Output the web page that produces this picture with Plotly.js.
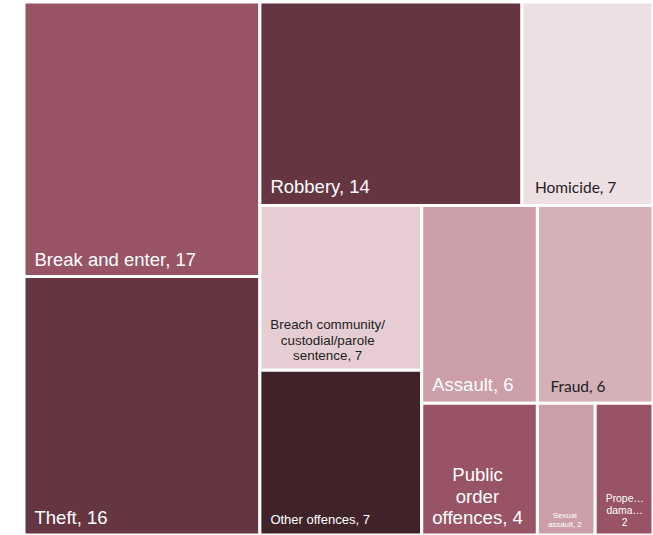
<!DOCTYPE html>
<html>
<head>
<meta charset="utf-8">
<script src="https://cdn.plot.ly/plotly-3.0.1.min.js"></script>
<style>html,body{margin:0;padding:0;background:#fff;}#chart{width:653px;height:535px;}</style>
</head>
<body>
<div id="chart"></div>
<script>
// ---- data ----
const categories = ["Break and enter", "Theft", "Robbery", "Homicide", "Breach community/custodial/parole sentence", "Other offences", "Assault", "Fraud", "Public order offences", "Sexual assault", "Property damage"];
const values = [17, 16, 14, 7, 7, 7, 6, 6, 4, 2, 2];
// label lines as printed inside each tile
const labelLines = [
  ["Break and enter, 17"],
  ["Theft, 16"],
  ["Robbery, 14"],
  ["Homicide, 7"],
  ["Breach community/", "custodial/parole", "sentence, 7"],
  ["Other offences, 7"],
  ["Assault, 6"],
  ["Fraud, 6"],
  ["Public", "order", "offences, 4"],
  ["Sexual", "assault, 2"],
  ["Prope\u2026", "dama\u2026", "2"]
];

// ---- styles ----
const tileColors = ["#985365", "#653642", "#653642", "#EEDFE3", "#E6CDD4", "#402329", "#CB9EA9", "#D4B0B8", "#985365", "#CB9EA9", "#985365"];
const textColors = ["#ffffff", "#ffffff", "#ffffff", "#222222", "#222222", "#ffffff", "#ffffff", "#222222", "#ffffff", "#ffffff", "#ffffff"];
const fontSizes = [18.5, 18.5, 18.5, 15.5, 13.4, 13, 18.5, 15.5, 18.6, 7.9, 10.4];
const fontFamilies = ["Liberation Sans", "Liberation Sans", "Liberation Sans", "Lato", "Liberation Sans", "Liberation Sans", "Liberation Sans", "Lato", "Liberation Sans", "Liberation Sans", "Liberation Sans"];
const lineSpacing = [22, 22, 22, 18, 15.5, 16, 22, 18, 21.5, 9.5, 12];
const bottomGap = [11, 11, 13, 13, 10, 11, 12.5, 11, 11, 8, 9.5];
const leftPad = [7.5, 7.5, 7.5, 10, 7.5, 7.5, 7.5, 10, 7.5, 7.5, 7.5];

const NBSP = "\u00A0";
const NB_EM = 0.2778;      // width of a no-break space in Liberation Sans (em)
const DESC_EM = 0.212;     // descent of Liberation Sans (em)
const TEXTPAD = 3;         // plotly inner text pad

const ctx = document.createElement("canvas").getContext("2d");
function measure(str, fs, fam) {
  ctx.font = fs + 'px "' + fam + '"';
  return ctx.measureText(str).width;
}
function padSpan(px, fs) {
  const nbW = NB_EM * fs;
  const n = Math.floor(px / nbW);
  const rem = px - n * nbW;
  let s = "";
  if (n > 0) s += '<span style="font-size:' + fs + 'px">' + NBSP.repeat(n) + '</span>';
  if (rem > 0.2) s += '<span style="font-size:' + (rem / NB_EM).toFixed(2) + 'px">' + NBSP + '</span>';
  return s;
}
function buildText(i) {
  const lines = labelLines[i];
  const fs = fontSizes[i], fam = fontFamilies[i];
  const widths = lines.map(l => measure(l, fs, fam));
  const maxW = Math.max.apply(null, widths);
  const trail = Math.max(1, (bottomGap[i] - TEXTPAD) / DESC_EM);
  return lines.map((l, k) => {
    let s = padSpan(leftPad[i] + (maxW - widths[k]) / 2, fs) +
      '<span style="font-family:' + fam + ';font-size:' + fs + 'px">' + l + '</span>';
    if (k === lines.length - 1) s += '<span style="font-size:' + trail.toFixed(2) + 'px">' + NBSP + '</span>';
    return s;
  }).join("<br>");
}

const tileText = categories.map((c, i) => buildText(i));

const trace = {
  type: "treemap",
  labels: categories,
  parents: categories.map(() => ""),
  values: values,
  text: tileText,
  textinfo: "text",
  textposition: "bottom left",
  sort: true,
  branchvalues: "remainder",
  tiling: {packing: "squarify", squarifyratio: 1.2, pad: 0},
  marker: {colors: tileColors, line: {color: "#ffffff", width: 3}, pad: {t: 0, l: 0, r: 0, b: 0}},
  textfont: {color: textColors, size: lineSpacing.map(v => v / 1.3), family: "Liberation Sans"},
  pathbar: {visible: false},
  hoverinfo: "label+value"
};

const layout = {
  width: 653,
  height: 535,
  margin: {l: 24, r: 0, t: 2, b: 0},
  paper_bgcolor: "#ffffff",
  showlegend: false
};

Plotly.newPlot("chart", [trace], layout, {displayModeBar: false, staticPlot: true});
</script>
</body>
</html>
